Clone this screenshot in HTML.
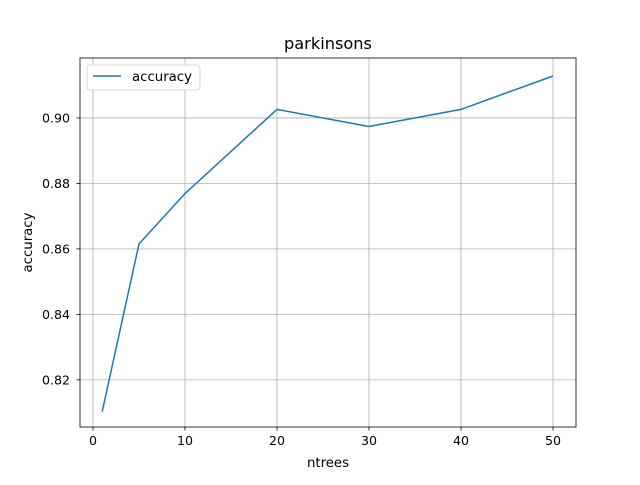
<!DOCTYPE html>
<html><head><meta charset="utf-8"><style>
body{margin:0;background:#fff;}
svg text{font-family:"DejaVu Sans","Liberation Sans",sans-serif;}
</style></head><body>
<svg id="chart" width="640" height="480" xmlns="http://www.w3.org/2000/svg">
<rect width="640" height="480" fill="#fff"/>
<g id="grid"></g>
<g id="ticks"></g>
<path id="line" fill="none" stroke="#1f77b4" stroke-width="1.5"/>
<rect x="80" y="58" width="496" height="369" fill="none" stroke="#000" stroke-width="0.8"/>
<text x="328" y="49" font-size="16.2" text-anchor="middle">parkinsons</text>
<text x="328" y="467" font-size="13.3" text-anchor="middle">ntrees</text>
<text x="0" y="0" font-size="13.3" text-anchor="middle" transform="translate(32,242.5) rotate(-90)">accuracy</text>
<g>
<rect x="87" y="65" width="113" height="25" rx="3" fill="#fff" stroke="#ccc" stroke-width="0.8"/>
<line x1="93" y1="76" x2="121" y2="76" stroke="#1f77b4" stroke-width="1.5"/>
<text x="132" y="81" font-size="13.3">accuracy</text>
</g>
</svg>
<script>
const ntrees=[1,5,10,20,30,40,50];
const accuracy=[0.8103,0.8615,0.8769,0.9026,0.8974,0.9026,0.9128];
const xTicks=[0,10,20,30,40,50];
const yTicks=[0.82,0.84,0.86,0.88,0.90];
const yTickLabels=["0.82","0.84","0.86","0.88","0.90"];
const L=80,R=576,T=58,B=427;
const xMin=-1.41,xMax=52.5,yMin=0.8056,yMax=0.9183;
const sx=v=>L+(v-xMin)/(xMax-xMin)*(R-L);
const sy=v=>B-(v-yMin)/(yMax-yMin)*(B-T);
const NS="http://www.w3.org/2000/svg";
const grid=document.getElementById('grid'),ticks=document.getElementById('ticks');
function mk(tag,attrs,parent){const e=document.createElementNS(NS,tag);for(const k in attrs)e.setAttribute(k,attrs[k]);parent.appendChild(e);return e;}
xTicks.forEach(v=>{const x=sx(v);
const g=mk('line',{x1:x,x2:x,y1:T,y2:B,stroke:'#b0b0b0','stroke-width':0.8},grid);


mk('line',{x1:x,x2:x,y1:B,y2:B+3.5,stroke:'#000','stroke-width':0.8},ticks);
const t=mk('text',{x:x,y:B+18,'font-size':12.6,'text-anchor':'middle'},ticks);t.textContent=v;

});
yTicks.forEach((v,i)=>{const y=sy(v);
const g=mk('line',{x1:L,x2:R,y1:y,y2:y,stroke:'#b0b0b0','stroke-width':0.8},grid);


mk('line',{x1:L-3.5,x2:L,y1:y,y2:y,stroke:'#000','stroke-width':0.8},ticks);
const t=mk('text',{x:L-10,y:y+4.5,'font-size':12.6,'text-anchor':'end'},ticks);t.textContent=yTickLabels[i];

});
document.getElementById('line').setAttribute('d',ntrees.map((v,i)=>(i?'L':'M')+sx(v)+','+sy(accuracy[i])).join(' '));
</script>
</body></html>
